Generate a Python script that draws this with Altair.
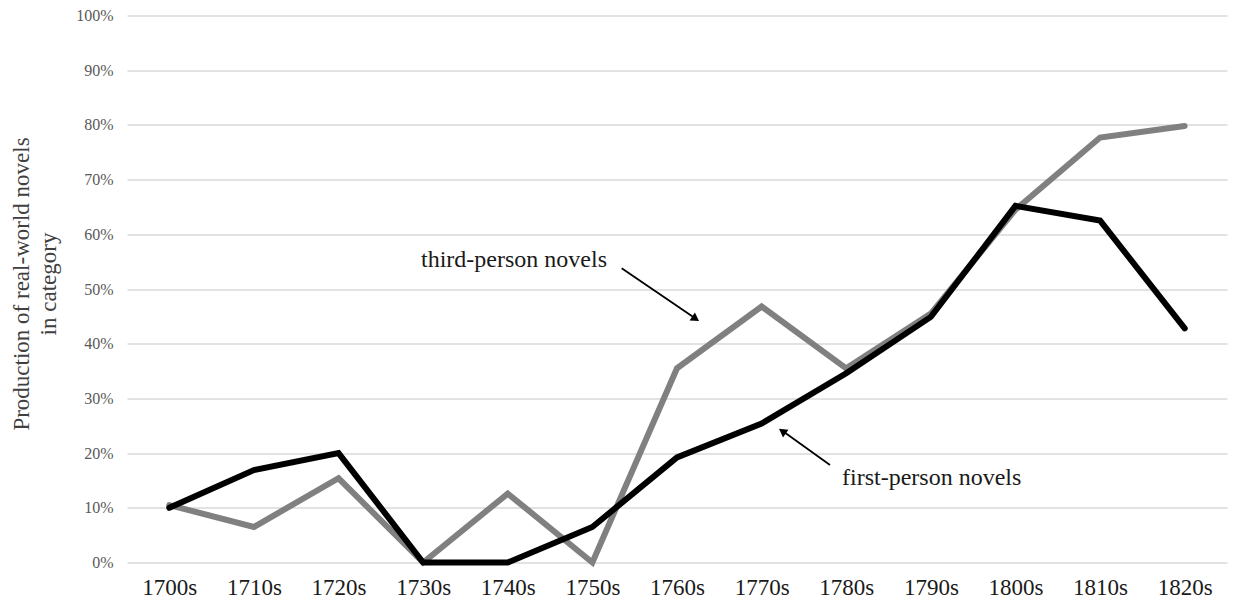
import altair as alt
import pandas as pd

decades = ["1700s", "1710s", "1720s", "1730s", "1740s", "1750s", "1760s",
           "1770s", "1780s", "1790s", "1800s", "1810s", "1820s"]
third_person = [0.105, 0.065, 0.154, 0.0, 0.126, 0.0, 0.355,
                0.468, 0.355, 0.455, 0.645, 0.777, 0.798]
first_person = [0.10, 0.169, 0.20, 0.0, 0.0, 0.065, 0.192,
                0.254, 0.346, 0.449, 0.652, 0.625, 0.428]
y_ticks = [i / 10 for i in range(11)]

W, H = 1100, 547
FONT = "Liberation Serif"

df3 = pd.DataFrame({"decade": decades, "value": third_person, "series": "third-person novels"})
df1 = pd.DataFrame({"decade": decades, "value": first_person, "series": "first-person novels"})

x_enc = alt.X("decade:N", sort=decades, scale=alt.Scale(type="point", padding=0.5),
              axis=alt.Axis(title=None, labelAngle=0, labelFontSize=23, labelColor="#1a1a1a",
                            labelPadding=14, ticks=False, tickSize=0, domain=False, grid=False))
y_enc = alt.Y("value:Q", scale=alt.Scale(domain=[0, 1], nice=False),
              axis=alt.Axis(title=["Production of  real-world novels", "in category"],
                            values=y_ticks, format=".0%", labelFontSize=16, labelColor="#595959",
                            labelPadding=14, ticks=False, tickSize=0, domain=False,
                            grid=True, gridColor="#d9d9d9", gridWidth=1.5,
                            titleFontSize=23, titleFontWeight="normal", titleColor="#404040",
                            titleAngle=270, titleX=-105.5, titleY=268, titleAlign="center",
                            titleBaseline="middle", titleLineHeight=27))

gray = alt.Chart(df3).mark_line(color="#808080", strokeWidth=6, strokeCap="round").encode(x=x_enc, y=y_enc)
black = alt.Chart(df1).mark_line(color="#000000", strokeWidth=6, strokeCap="round").encode(
    x=alt.X("decade:N", sort=decades), y="value:Q")

# annotations (pixel positions relative to the plot area)
t1 = alt.Chart(pd.DataFrame({"label": ["third-person novels"]})).mark_text(
    font=FONT, fontSize=24, align="right", baseline="alphabetic", color="#1a1a1a"
).encode(text="label:N", x=alt.value(480), y=alt.value(251))
t2 = alt.Chart(pd.DataFrame({"label": ["first-person novels"]})).mark_text(
    font=FONT, fontSize=24, align="left", baseline="alphabetic", color="#1a1a1a"
).encode(text="label:N", x=alt.value(715), y=alt.value(469.5))

a1 = alt.Chart(pd.DataFrame({"a": [1]})).mark_rule(color="#000000", strokeWidth=1.8).encode(
    x=alt.value(494.7), y=alt.value(252.8), x2=alt.value(567), y2=alt.value(302))
h1 = alt.Chart(pd.DataFrame({"a": [1]})).mark_point(shape="triangle", filled=True, color="#000000",
                                                      opacity=1, size=90, angle=124).encode(
    x=alt.value(567.5), y=alt.value(302.5))
a2 = alt.Chart(pd.DataFrame({"a": [1]})).mark_rule(color="#000000", strokeWidth=1.8).encode(
    x=alt.value(703), y=alt.value(449.5), x2=alt.value(657), y2=alt.value(416.5))
h2 = alt.Chart(pd.DataFrame({"a": [1]})).mark_point(shape="triangle", filled=True, color="#000000",
                                                      opacity=1, size=90, angle=305).encode(
    x=alt.value(656.5), y=alt.value(416.5))

chart = alt.layer(gray, black, t1, t2, a1, h1, a2, h2).properties(
    width=W, height=H,
    autosize=alt.AutoSizeParams(type="none"),
    padding={"left": 119, "top": 7.5, "right": 3, "bottom": 40},
).configure(font=FONT).configure_view(stroke=None).configure_axis(labelFont=FONT, titleFont=FONT)

chart.save("out.html", embed_options={"renderer": "svg", "actions": False})
